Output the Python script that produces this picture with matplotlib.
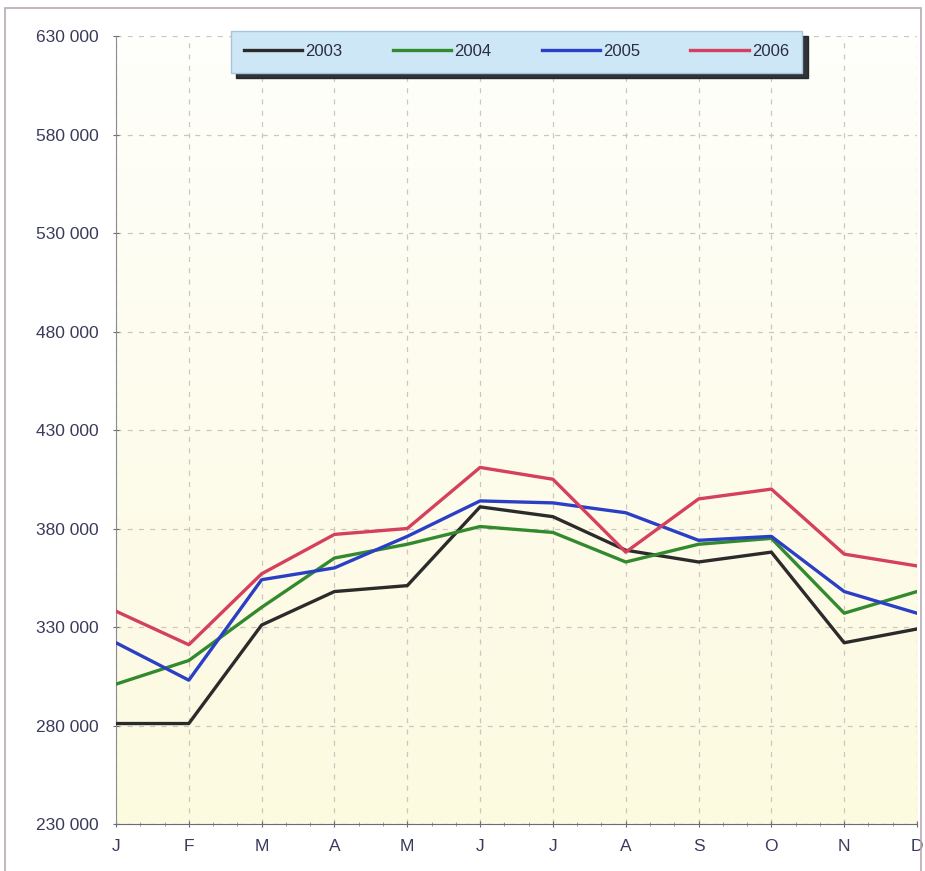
import numpy as np
import matplotlib
matplotlib.use("Agg")
import matplotlib.pyplot as plt
from matplotlib.patches import Rectangle
from matplotlib.ticker import FuncFormatter, MultipleLocator

# Datos (valores mensuales por año)
meses = ["J", "F", "M", "A", "M", "J", "J", "A", "S", "O", "N", "D"]
v2003 = [281000, 281000, 331000, 348000, 351000, 391000, 386000, 369000, 363000, 368000, 322000, 329000]
v2004 = [301000, 313000, 340000, 365000, 372000, 381000, 378000, 363000, 372000, 375000, 337000, 348000]
v2005 = [322000, 303000, 354000, 360000, 376000, 394000, 393000, 388000, 374000, 376000, 348000, 337000]
v2006 = [338000, 321000, 357000, 377000, 380000, 411000, 405000, 368000, 395000, 400000, 367000, 361000]
ticks_y = [230000, 280000, 330000, 380000, 430000, 480000, 530000, 580000, 630000]

series = [("2003", v2003, "#2b2b2b"),
          ("2004", v2004, "#338a2e"),
          ("2005", v2005, "#2b3fc6"),
          ("2006", v2006, "#d4405e")]

plt.rcParams['font.family'] = ['Liberation Sans Narrow', 'Liberation Sans', 'DejaVu Sans']

fig = plt.figure(figsize=(9.25, 8.71), dpi=100)
ax = fig.add_axes([116 / 925, 1 - 824 / 871, 801 / 925, 788 / 871])

# marco de la figura
fig.patches.append(Rectangle((5 / 925, -0.01), 0.99, 1 - 8 / 871 + 0.01,
                             transform=fig.transFigure, fill=False,
                             edgecolor="#b9a9b6", linewidth=1.2))

x = np.arange(len(meses))

# fondo degradado amarillo pálido
grad = np.linspace(0, 1, 256).reshape(-1, 1)
cmap = matplotlib.colors.LinearSegmentedColormap.from_list("bg", ["#fffffb", "#fefcec", "#fcfadf"])
ax.imshow(grad, aspect="auto", cmap=cmap, extent=[0, 11, 230000, 630000],
          origin="upper", zorder=0)

for nombre, valores, color in series:
    ax.plot(x, valores, color=color, linewidth=2.4, label=nombre, zorder=3)

ax.set_xlim(0, 11)
ax.set_ylim(230000, 630000)
ax.set_xticks(x)
ax.set_xticklabels(meses)
ax.xaxis.set_minor_locator(MultipleLocator(1 / 3))
ax.set_yticks(ticks_y)
ax.yaxis.set_major_formatter(FuncFormatter(lambda v, p: f"{int(v):,}".replace(",", " ")))

ax.grid(True, which="major", linestyle=(0, (4, 5)), color="#cbc7bf", linewidth=0.9)
ax.set_axisbelow(True)

for lado in ["top", "right"]:
    ax.spines[lado].set_visible(False)
ax.spines["left"].set_color("#8a8a96")
ax.spines["bottom"].set_color("#6e6a7a")

ax.tick_params(axis="both", which="major", labelsize=12.5, labelcolor="#3a3a5c",
               color="#6e6a7a", length=5, direction="inout")
ax.tick_params(axis="x", which="minor", length=3, direction="inout", color="#8a8a96")
ax.tick_params(axis="x", pad=8)
ax.tick_params(axis="y", pad=10)

leg = ax.legend(ncol=4, loc="upper center", bbox_to_anchor=(0.5, 1.017),
                frameon=True, fancybox=False,
                shadow={"color": "#1c1c24", "alpha": 0.9, "ox": 4, "oy": -4},
                fontsize=12, handlelength=3.5, handletextpad=0.2, columnspacing=3.0,
                borderpad=0.8)
leg.get_frame().set_facecolor("#cde7f7")
leg.get_frame().set_edgecolor("#a8c4d8")
leg.get_frame().set_alpha(1)
for t in leg.get_texts():
    t.set_color("#2c2c44")
leg.set_zorder(5)

fig.savefig("out.png", dpi=100)
